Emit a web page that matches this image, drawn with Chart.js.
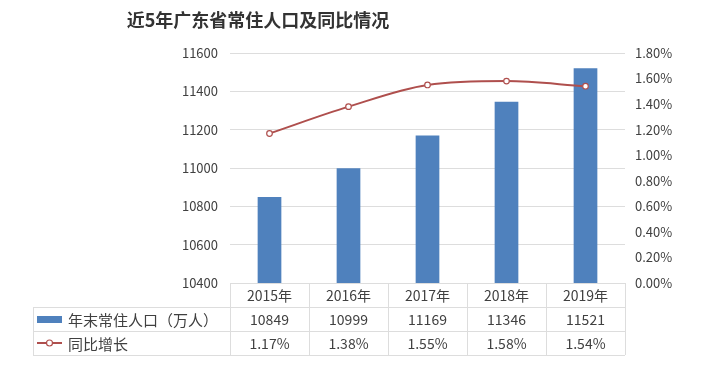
<!DOCTYPE html>
<html>
<head>
<meta charset="utf-8">
<script src="https://cdn.jsdelivr.net/npm/chart.js@4/dist/chart.umd.min.js"></script>
<style>
  html, body { margin: 0; padding: 0; background: #fff; }
  #wrap { width: 707px; height: 385px; position: relative; }
</style>
</head>
<body>
<div id="wrap"><canvas id="popChart"></canvas></div>
<script>
// data
const years = ["2015年", "2016年", "2017年", "2018年", "2019年"];
const population = [10849, 10999, 11169, 11346, 11521];
const growth = [1.17, 1.38, 1.55, 1.58, 1.54];
const popLabel = "年末常住人口（万人）";
const growthLabel = "同比增长";
const titleText = "近5年广东省常住人口及同比情况";

const FONT = "'Noto Sans CJK SC', 'Noto Sans', sans-serif";
const BAR = "#4F81BD";
const LINE = "#AF4F4D";
const GRID = "#DDDDDD";
const TEXT = "#404040";

// title + data table under the plot
const tablePlugin = {
  id: "tablePlugin",
  afterDraw(chart) {
    const ctx = chart.ctx;
    const x = chart.scales.x;
    const area = chart.chartArea;
    const colW = (area.right - area.left) / years.length;
    const rowH = 24;
    const top = area.bottom;
    const legLeft = 33;

    ctx.save();
    // title
    ctx.fillStyle = "#333";
    ctx.font = "bold 18px " + FONT;
    ctx.textAlign = "center";
    ctx.textBaseline = "middle";
    ctx.fillText(titleText, 258, 20);

    // grid lines of table
    ctx.strokeStyle = GRID;
    ctx.lineWidth = 1;
    ctx.beginPath();
    ctx.moveTo(area.left, top + 0.5);
    ctx.lineTo(area.right, top + 0.5);
    for (let r = 1; r <= 3; r++) {
      ctx.moveTo(legLeft, top + r * rowH + 0.5);
      ctx.lineTo(area.right, top + r * rowH + 0.5);
    }
    for (let i = 0; i <= years.length; i++) {
      const px = Math.round(area.left + i * colW) + 0.5;
      ctx.moveTo(px, top);
      ctx.lineTo(px, top + 3 * rowH);
    }
    ctx.moveTo(legLeft + 0.5, top + rowH);
    ctx.lineTo(legLeft + 0.5, top + 3 * rowH);
    ctx.stroke();

    // cell texts
    ctx.fillStyle = TEXT;
    ctx.font = "14px " + FONT;
    ctx.textAlign = "center";
    years.forEach((y, i) => {
      const cx = x.getPixelForValue(i);
      ctx.fillText(y, cx, top + rowH / 2 + 1);
      ctx.fillText(String(population[i]), cx, top + rowH * 1.5 + 1);
      ctx.fillText(growth[i].toFixed(2) + "%", cx, top + rowH * 2.5 + 1);
    });

    // legend keys
    const r1 = top + rowH * 1.5;
    const r2 = top + rowH * 2.5;
    ctx.fillStyle = BAR;
    ctx.fillRect(37, r1 - 3, 25, 7);
    ctx.strokeStyle = LINE;
    ctx.lineWidth = 2;
    ctx.beginPath();
    ctx.moveTo(37, r2);
    ctx.lineTo(62, r2);
    ctx.stroke();
    ctx.fillStyle = "#fff";
    ctx.lineWidth = 1.2;
    ctx.beginPath();
    ctx.arc(49.5, r2, 3, 0, Math.PI * 2);
    ctx.fill();
    ctx.stroke();

    ctx.fillStyle = TEXT;
    ctx.font = "15px " + FONT;
    ctx.textAlign = "left";
    ctx.fillText(popLabel, 68, r1 + 1);
    ctx.fillText(growthLabel, 68, r2 + 1);
    ctx.restore();
  }
};

new Chart(document.getElementById("popChart").getContext("2d"), {
  data: {
    labels: years,
    datasets: [
      {
        type: "line",
        label: growthLabel,
        data: growth,
        yAxisID: "y1",
        borderColor: LINE,
        borderWidth: 2,
        cubicInterpolationMode: "monotone",
        pointRadius: 2.8,
        pointBackgroundColor: "#fff",
        pointBorderColor: LINE,
        pointBorderWidth: 1.2,
        order: 0
      },
      {
        type: "bar",
        label: popLabel,
        data: population,
        yAxisID: "y",
        backgroundColor: BAR,
        categoryPercentage: 1,
        barPercentage: 0.3,
        order: 1
      }
    ]
  },
  options: {
    responsive: true,
    maintainAspectRatio: false,
    animation: false,
    layout: { padding: { top: 53, bottom: 102, left: 0, right: 0 } },
    plugins: { legend: { display: false }, tooltip: { enabled: false } },
    scales: {
      x: { display: false },
      y: {
        position: "left",
        min: 10400,
        max: 11600,
        ticks: {
          stepSize: 200,
          color: TEXT,
          font: { size: 13, family: FONT },
          padding: 12,
          callback: v => String(v)
        },
        grid: { color: GRID, drawTicks: false },
        border: { display: false },
        afterFit(scale) { scale.width = 230; }
      },
      y1: {
        position: "right",
        min: 0,
        max: 1.8,
        ticks: {
          stepSize: 0.2,
          color: TEXT,
          font: { size: 13, family: FONT },
          padding: 10,
          callback: v => v.toFixed(2) + "%"
        },
        grid: { display: false, drawTicks: false },
        border: { display: false },
        afterFit(scale) { scale.width = 82; }
      }
    }
  },
  plugins: [tablePlugin]
});
</script>
</body>
</html>
